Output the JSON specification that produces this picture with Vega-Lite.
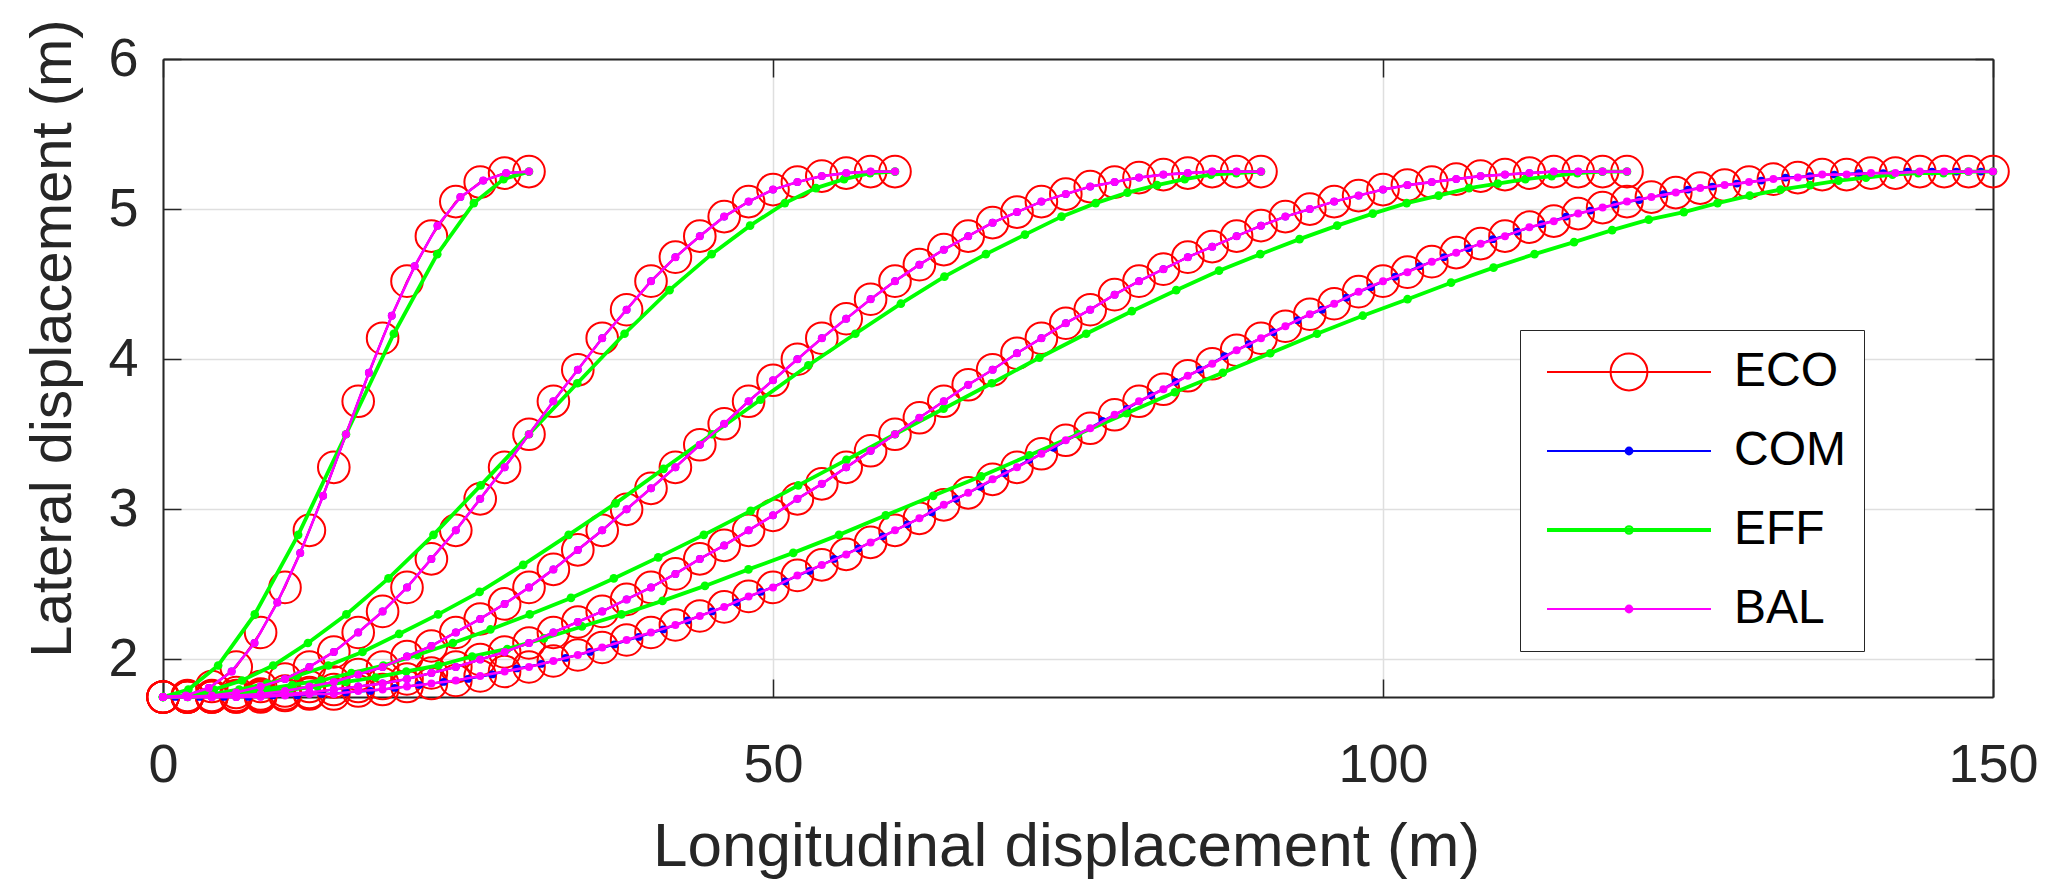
{
  "$schema": "https://vega.github.io/schema/vega-lite/v6.json",
  "width": 1830,
  "height": 638,
  "autosize": {"type": "none"},
  "padding": {"left": 163, "top": 59, "right": 66, "bottom": 194},
  "background": "white",
  "config": {
    "view": {"stroke": null},
    "font": "Liberation Sans",
    "axis": {
      "domainColor": "#262626", "domainWidth": 2,
      "tickColor": "#262626", "tickWidth": 1.5, "tickSize": -18,
      "labelFont": "Liberation Sans", "labelFontSize": 54, "labelColor": "#262626",
      "labelFlush": false, "labelOverlap": false,
      "titleFont": "Liberation Sans", "titleFontSize": 60, "titleFontWeight": "normal", "titleColor": "#262626",
      "gridColor": "#DFDFDF", "gridWidth": 1.5
    }
  },
  "datasets": {
    "series": [{"s": "ECO"}, {"s": "COM"}, {"s": "EFF"}, {"s": "BAL"}],
    "eco": [
      {"g":1,"x":0,"y":1.75},{"g":1,"x":2,"y":1.76},{"g":1,"x":4,"y":1.82},{"g":1,"x":6,"y":1.95},{"g":1,"x":8,"y":2.18},{"g":1,"x":10,"y":2.48},{"g":1,"x":12,"y":2.86},{"g":1,"x":14,"y":3.28},{"g":1,"x":16,"y":3.72},{"g":1,"x":18,"y":4.14},{"g":1,"x":20,"y":4.52},{"g":1,"x":22,"y":4.82},{"g":1,"x":24,"y":5.05},{"g":1,"x":26,"y":5.18},{"g":1,"x":28,"y":5.24},{"g":1,"x":30,"y":5.25},
      {"g":2,"x":0,"y":1.75},{"g":2,"x":2,"y":1.75},{"g":2,"x":4,"y":1.76},{"g":2,"x":6,"y":1.78},{"g":2,"x":8,"y":1.82},{"g":2,"x":10,"y":1.87},{"g":2,"x":12,"y":1.95},{"g":2,"x":14,"y":2.05},{"g":2,"x":16,"y":2.18},{"g":2,"x":18,"y":2.32},{"g":2,"x":20,"y":2.48},{"g":2,"x":22,"y":2.67},{"g":2,"x":24,"y":2.86},{"g":2,"x":26,"y":3.07},{"g":2,"x":28,"y":3.28},{"g":2,"x":30,"y":3.5},{"g":2,"x":32,"y":3.72},{"g":2,"x":34,"y":3.93},{"g":2,"x":36,"y":4.14},{"g":2,"x":38,"y":4.33},{"g":2,"x":40,"y":4.52},{"g":2,"x":42,"y":4.68},{"g":2,"x":44,"y":4.82},{"g":2,"x":46,"y":4.95},{"g":2,"x":48,"y":5.05},{"g":2,"x":50,"y":5.13},{"g":2,"x":52,"y":5.18},{"g":2,"x":54,"y":5.22},{"g":2,"x":56,"y":5.24},{"g":2,"x":58,"y":5.25},{"g":2,"x":60,"y":5.25},
      {"g":3,"x":0,"y":1.75},{"g":3,"x":2,"y":1.75},{"g":3,"x":4,"y":1.75},{"g":3,"x":6,"y":1.76},{"g":3,"x":8,"y":1.77},{"g":3,"x":10,"y":1.79},{"g":3,"x":12,"y":1.82},{"g":3,"x":14,"y":1.85},{"g":3,"x":16,"y":1.9},{"g":3,"x":18,"y":1.95},{"g":3,"x":20,"y":2.02},{"g":3,"x":22,"y":2.09},{"g":3,"x":24,"y":2.18},{"g":3,"x":26,"y":2.27},{"g":3,"x":28,"y":2.37},{"g":3,"x":30,"y":2.48},{"g":3,"x":32,"y":2.6},{"g":3,"x":34,"y":2.73},{"g":3,"x":36,"y":2.86},{"g":3,"x":38,"y":3.0},{"g":3,"x":40,"y":3.14},{"g":3,"x":42,"y":3.28},{"g":3,"x":44,"y":3.43},{"g":3,"x":46,"y":3.57},{"g":3,"x":48,"y":3.72},{"g":3,"x":50,"y":3.86},{"g":3,"x":52,"y":4.0},{"g":3,"x":54,"y":4.14},{"g":3,"x":56,"y":4.27},{"g":3,"x":58,"y":4.4},{"g":3,"x":60,"y":4.52},{"g":3,"x":62,"y":4.63},{"g":3,"x":64,"y":4.73},{"g":3,"x":66,"y":4.82},{"g":3,"x":68,"y":4.91},{"g":3,"x":70,"y":4.98},{"g":3,"x":72,"y":5.05},{"g":3,"x":74,"y":5.1},{"g":3,"x":76,"y":5.15},{"g":3,"x":78,"y":5.18},{"g":3,"x":80,"y":5.21},{"g":3,"x":82,"y":5.23},{"g":3,"x":84,"y":5.24},{"g":3,"x":86,"y":5.25},{"g":3,"x":88,"y":5.25},{"g":3,"x":90,"y":5.25},
      {"g":4,"x":0,"y":1.75},{"g":4,"x":2,"y":1.75},{"g":4,"x":4,"y":1.75},{"g":4,"x":6,"y":1.75},{"g":4,"x":8,"y":1.76},{"g":4,"x":10,"y":1.77},{"g":4,"x":12,"y":1.78},{"g":4,"x":14,"y":1.8},{"g":4,"x":16,"y":1.82},{"g":4,"x":18,"y":1.84},{"g":4,"x":20,"y":1.87},{"g":4,"x":22,"y":1.91},{"g":4,"x":24,"y":1.95},{"g":4,"x":26,"y":2.0},{"g":4,"x":28,"y":2.05},{"g":4,"x":30,"y":2.11},{"g":4,"x":32,"y":2.18},{"g":4,"x":34,"y":2.25},{"g":4,"x":36,"y":2.32},{"g":4,"x":38,"y":2.4},{"g":4,"x":40,"y":2.48},{"g":4,"x":42,"y":2.57},{"g":4,"x":44,"y":2.67},{"g":4,"x":46,"y":2.76},{"g":4,"x":48,"y":2.86},{"g":4,"x":50,"y":2.96},{"g":4,"x":52,"y":3.07},{"g":4,"x":54,"y":3.17},{"g":4,"x":56,"y":3.28},{"g":4,"x":58,"y":3.39},{"g":4,"x":60,"y":3.5},{"g":4,"x":62,"y":3.61},{"g":4,"x":64,"y":3.72},{"g":4,"x":66,"y":3.83},{"g":4,"x":68,"y":3.93},{"g":4,"x":70,"y":4.04},{"g":4,"x":72,"y":4.14},{"g":4,"x":74,"y":4.24},{"g":4,"x":76,"y":4.33},{"g":4,"x":78,"y":4.43},{"g":4,"x":80,"y":4.52},{"g":4,"x":82,"y":4.6},{"g":4,"x":84,"y":4.68},{"g":4,"x":86,"y":4.75},{"g":4,"x":88,"y":4.82},{"g":4,"x":90,"y":4.89},{"g":4,"x":92,"y":4.95},{"g":4,"x":94,"y":5.0},{"g":4,"x":96,"y":5.05},{"g":4,"x":98,"y":5.09},{"g":4,"x":100,"y":5.13},{"g":4,"x":102,"y":5.16},{"g":4,"x":104,"y":5.18},{"g":4,"x":106,"y":5.2},{"g":4,"x":108,"y":5.22},{"g":4,"x":110,"y":5.23},{"g":4,"x":112,"y":5.24},{"g":4,"x":114,"y":5.25},{"g":4,"x":116,"y":5.25},{"g":4,"x":118,"y":5.25},{"g":4,"x":120,"y":5.25},
      {"g":5,"x":0,"y":1.75},{"g":5,"x":2,"y":1.75},{"g":5,"x":4,"y":1.75},{"g":5,"x":6,"y":1.75},{"g":5,"x":8,"y":1.75},{"g":5,"x":10,"y":1.76},{"g":5,"x":12,"y":1.77},{"g":5,"x":14,"y":1.77},{"g":5,"x":16,"y":1.79},{"g":5,"x":18,"y":1.8},{"g":5,"x":20,"y":1.82},{"g":5,"x":22,"y":1.84},{"g":5,"x":24,"y":1.86},{"g":5,"x":26,"y":1.89},{"g":5,"x":28,"y":1.92},{"g":5,"x":30,"y":1.95},{"g":5,"x":32,"y":1.99},{"g":5,"x":34,"y":2.03},{"g":5,"x":36,"y":2.08},{"g":5,"x":38,"y":2.13},{"g":5,"x":40,"y":2.18},{"g":5,"x":42,"y":2.23},{"g":5,"x":44,"y":2.29},{"g":5,"x":46,"y":2.35},{"g":5,"x":48,"y":2.42},{"g":5,"x":50,"y":2.48},{"g":5,"x":52,"y":2.56},{"g":5,"x":54,"y":2.63},{"g":5,"x":56,"y":2.7},{"g":5,"x":58,"y":2.78},{"g":5,"x":60,"y":2.86},{"g":5,"x":62,"y":2.94},{"g":5,"x":64,"y":3.03},{"g":5,"x":66,"y":3.11},{"g":5,"x":68,"y":3.2},{"g":5,"x":70,"y":3.28},{"g":5,"x":72,"y":3.37},{"g":5,"x":74,"y":3.46},{"g":5,"x":76,"y":3.54},{"g":5,"x":78,"y":3.63},{"g":5,"x":80,"y":3.72},{"g":5,"x":82,"y":3.8},{"g":5,"x":84,"y":3.89},{"g":5,"x":86,"y":3.97},{"g":5,"x":88,"y":4.06},{"g":5,"x":90,"y":4.14},{"g":5,"x":92,"y":4.22},{"g":5,"x":94,"y":4.3},{"g":5,"x":96,"y":4.37},{"g":5,"x":98,"y":4.45},{"g":5,"x":100,"y":4.52},{"g":5,"x":102,"y":4.58},{"g":5,"x":104,"y":4.65},{"g":5,"x":106,"y":4.71},{"g":5,"x":108,"y":4.77},{"g":5,"x":110,"y":4.82},{"g":5,"x":112,"y":4.88},{"g":5,"x":114,"y":4.92},{"g":5,"x":116,"y":4.97},{"g":5,"x":118,"y":5.01},{"g":5,"x":120,"y":5.05},{"g":5,"x":122,"y":5.08},{"g":5,"x":124,"y":5.11},{"g":5,"x":126,"y":5.14},{"g":5,"x":128,"y":5.16},{"g":5,"x":130,"y":5.18},{"g":5,"x":132,"y":5.2},{"g":5,"x":134,"y":5.21},{"g":5,"x":136,"y":5.23},{"g":5,"x":138,"y":5.23},{"g":5,"x":140,"y":5.24},{"g":5,"x":142,"y":5.24},{"g":5,"x":144,"y":5.25},{"g":5,"x":146,"y":5.25},{"g":5,"x":148,"y":5.25},{"g":5,"x":150,"y":5.25}
    ],
    "com": [
      {"g":1,"x":0,"y":1.75},{"g":1,"x":1.875,"y":1.76},{"g":1,"x":3.75,"y":1.81},{"g":1,"x":5.625,"y":1.92},{"g":1,"x":7.5,"y":2.11},{"g":1,"x":9.375,"y":2.38},{"g":1,"x":11.25,"y":2.71},{"g":1,"x":13.125,"y":3.09},{"g":1,"x":15,"y":3.5},{"g":1,"x":16.875,"y":3.91},{"g":1,"x":18.75,"y":4.29},{"g":1,"x":20.625,"y":4.62},{"g":1,"x":22.5,"y":4.89},{"g":1,"x":24.375,"y":5.08},{"g":1,"x":26.25,"y":5.19},{"g":1,"x":28.125,"y":5.24},{"g":1,"x":30,"y":5.25},
      {"g":2,"x":0,"y":1.75},{"g":2,"x":2,"y":1.75},{"g":2,"x":4,"y":1.76},{"g":2,"x":6,"y":1.78},{"g":2,"x":8,"y":1.82},{"g":2,"x":10,"y":1.87},{"g":2,"x":12,"y":1.95},{"g":2,"x":14,"y":2.05},{"g":2,"x":16,"y":2.18},{"g":2,"x":18,"y":2.32},{"g":2,"x":20,"y":2.48},{"g":2,"x":22,"y":2.67},{"g":2,"x":24,"y":2.86},{"g":2,"x":26,"y":3.07},{"g":2,"x":28,"y":3.28},{"g":2,"x":30,"y":3.5},{"g":2,"x":32,"y":3.72},{"g":2,"x":34,"y":3.93},{"g":2,"x":36,"y":4.14},{"g":2,"x":38,"y":4.33},{"g":2,"x":40,"y":4.52},{"g":2,"x":42,"y":4.68},{"g":2,"x":44,"y":4.82},{"g":2,"x":46,"y":4.95},{"g":2,"x":48,"y":5.05},{"g":2,"x":50,"y":5.13},{"g":2,"x":52,"y":5.18},{"g":2,"x":54,"y":5.22},{"g":2,"x":56,"y":5.24},{"g":2,"x":58,"y":5.25},{"g":2,"x":60,"y":5.25},
      {"g":3,"x":0,"y":1.75},{"g":3,"x":2,"y":1.75},{"g":3,"x":4,"y":1.75},{"g":3,"x":6,"y":1.76},{"g":3,"x":8,"y":1.77},{"g":3,"x":10,"y":1.79},{"g":3,"x":12,"y":1.82},{"g":3,"x":14,"y":1.85},{"g":3,"x":16,"y":1.9},{"g":3,"x":18,"y":1.95},{"g":3,"x":20,"y":2.02},{"g":3,"x":22,"y":2.09},{"g":3,"x":24,"y":2.18},{"g":3,"x":26,"y":2.27},{"g":3,"x":28,"y":2.37},{"g":3,"x":30,"y":2.48},{"g":3,"x":32,"y":2.6},{"g":3,"x":34,"y":2.73},{"g":3,"x":36,"y":2.86},{"g":3,"x":38,"y":3.0},{"g":3,"x":40,"y":3.14},{"g":3,"x":42,"y":3.28},{"g":3,"x":44,"y":3.43},{"g":3,"x":46,"y":3.57},{"g":3,"x":48,"y":3.72},{"g":3,"x":50,"y":3.86},{"g":3,"x":52,"y":4.0},{"g":3,"x":54,"y":4.14},{"g":3,"x":56,"y":4.27},{"g":3,"x":58,"y":4.4},{"g":3,"x":60,"y":4.52},{"g":3,"x":62,"y":4.63},{"g":3,"x":64,"y":4.73},{"g":3,"x":66,"y":4.82},{"g":3,"x":68,"y":4.91},{"g":3,"x":70,"y":4.98},{"g":3,"x":72,"y":5.05},{"g":3,"x":74,"y":5.1},{"g":3,"x":76,"y":5.15},{"g":3,"x":78,"y":5.18},{"g":3,"x":80,"y":5.21},{"g":3,"x":82,"y":5.23},{"g":3,"x":84,"y":5.24},{"g":3,"x":86,"y":5.25},{"g":3,"x":88,"y":5.25},{"g":3,"x":90,"y":5.25},
      {"g":4,"x":0,"y":1.75},{"g":4,"x":2,"y":1.75},{"g":4,"x":4,"y":1.75},{"g":4,"x":6,"y":1.75},{"g":4,"x":8,"y":1.76},{"g":4,"x":10,"y":1.77},{"g":4,"x":12,"y":1.78},{"g":4,"x":14,"y":1.8},{"g":4,"x":16,"y":1.82},{"g":4,"x":18,"y":1.84},{"g":4,"x":20,"y":1.87},{"g":4,"x":22,"y":1.91},{"g":4,"x":24,"y":1.95},{"g":4,"x":26,"y":2.0},{"g":4,"x":28,"y":2.05},{"g":4,"x":30,"y":2.11},{"g":4,"x":32,"y":2.18},{"g":4,"x":34,"y":2.25},{"g":4,"x":36,"y":2.32},{"g":4,"x":38,"y":2.4},{"g":4,"x":40,"y":2.48},{"g":4,"x":42,"y":2.57},{"g":4,"x":44,"y":2.67},{"g":4,"x":46,"y":2.76},{"g":4,"x":48,"y":2.86},{"g":4,"x":50,"y":2.96},{"g":4,"x":52,"y":3.07},{"g":4,"x":54,"y":3.17},{"g":4,"x":56,"y":3.28},{"g":4,"x":58,"y":3.39},{"g":4,"x":60,"y":3.5},{"g":4,"x":62,"y":3.61},{"g":4,"x":64,"y":3.72},{"g":4,"x":66,"y":3.83},{"g":4,"x":68,"y":3.93},{"g":4,"x":70,"y":4.04},{"g":4,"x":72,"y":4.14},{"g":4,"x":74,"y":4.24},{"g":4,"x":76,"y":4.33},{"g":4,"x":78,"y":4.43},{"g":4,"x":80,"y":4.52},{"g":4,"x":82,"y":4.6},{"g":4,"x":84,"y":4.68},{"g":4,"x":86,"y":4.75},{"g":4,"x":88,"y":4.82},{"g":4,"x":90,"y":4.89},{"g":4,"x":92,"y":4.95},{"g":4,"x":94,"y":5.0},{"g":4,"x":96,"y":5.05},{"g":4,"x":98,"y":5.09},{"g":4,"x":100,"y":5.13},{"g":4,"x":102,"y":5.16},{"g":4,"x":104,"y":5.18},{"g":4,"x":106,"y":5.2},{"g":4,"x":108,"y":5.22},{"g":4,"x":110,"y":5.23},{"g":4,"x":112,"y":5.24},{"g":4,"x":114,"y":5.25},{"g":4,"x":116,"y":5.25},{"g":4,"x":118,"y":5.25},{"g":4,"x":120,"y":5.25},
      {"g":5,"x":0,"y":1.75},{"g":5,"x":1,"y":1.75},{"g":5,"x":3,"y":1.75},{"g":5,"x":5,"y":1.75},{"g":5,"x":7,"y":1.75},{"g":5,"x":9,"y":1.76},{"g":5,"x":11,"y":1.76},{"g":5,"x":13,"y":1.77},{"g":5,"x":15,"y":1.78},{"g":5,"x":17,"y":1.79},{"g":5,"x":19,"y":1.81},{"g":5,"x":21,"y":1.83},{"g":5,"x":23,"y":1.85},{"g":5,"x":25,"y":1.87},{"g":5,"x":27,"y":1.9},{"g":5,"x":29,"y":1.94},{"g":5,"x":31,"y":1.97},{"g":5,"x":33,"y":2.01},{"g":5,"x":35,"y":2.05},{"g":5,"x":37,"y":2.1},{"g":5,"x":39,"y":2.15},{"g":5,"x":41,"y":2.2},{"g":5,"x":43,"y":2.26},{"g":5,"x":45,"y":2.32},{"g":5,"x":47,"y":2.38},{"g":5,"x":49,"y":2.45},{"g":5,"x":51,"y":2.52},{"g":5,"x":53,"y":2.59},{"g":5,"x":55,"y":2.67},{"g":5,"x":57,"y":2.74},{"g":5,"x":59,"y":2.82},{"g":5,"x":61,"y":2.9},{"g":5,"x":63,"y":2.98},{"g":5,"x":65,"y":3.07},{"g":5,"x":67,"y":3.15},{"g":5,"x":69,"y":3.24},{"g":5,"x":71,"y":3.33},{"g":5,"x":73,"y":3.41},{"g":5,"x":75,"y":3.5},{"g":5,"x":77,"y":3.59},{"g":5,"x":79,"y":3.67},{"g":5,"x":81,"y":3.76},{"g":5,"x":83,"y":3.85},{"g":5,"x":85,"y":3.93},{"g":5,"x":87,"y":4.02},{"g":5,"x":89,"y":4.1},{"g":5,"x":91,"y":4.18},{"g":5,"x":93,"y":4.26},{"g":5,"x":95,"y":4.33},{"g":5,"x":97,"y":4.41},{"g":5,"x":99,"y":4.48},{"g":5,"x":101,"y":4.55},{"g":5,"x":103,"y":4.62},{"g":5,"x":105,"y":4.68},{"g":5,"x":107,"y":4.74},{"g":5,"x":109,"y":4.8},{"g":5,"x":111,"y":4.85},{"g":5,"x":113,"y":4.9},{"g":5,"x":115,"y":4.95},{"g":5,"x":117,"y":4.99},{"g":5,"x":119,"y":5.03},{"g":5,"x":121,"y":5.06},{"g":5,"x":123,"y":5.1},{"g":5,"x":125,"y":5.13},{"g":5,"x":127,"y":5.15},{"g":5,"x":129,"y":5.17},{"g":5,"x":131,"y":5.19},{"g":5,"x":133,"y":5.21},{"g":5,"x":135,"y":5.22},{"g":5,"x":137,"y":5.23},{"g":5,"x":139,"y":5.24},{"g":5,"x":141,"y":5.24},{"g":5,"x":143,"y":5.25},{"g":5,"x":145,"y":5.25},{"g":5,"x":147,"y":5.25},{"g":5,"x":149,"y":5.25},{"g":5,"x":150,"y":5.25}
    ],
    "eff": [
      {"g":1,"x":0,"y":1.75},{"g":1,"x":2.08,"y":1.8},{"g":1,"x":4.52,"y":1.96},{"g":1,"x":7.52,"y":2.3},{"g":1,"x":11.08,"y":2.83},{"g":1,"x":15,"y":3.5},{"g":1,"x":18.92,"y":4.17},{"g":1,"x":22.48,"y":4.7},{"g":1,"x":25.48,"y":5.04},{"g":1,"x":27.92,"y":5.2},{"g":1,"x":30,"y":5.25},
      {"g":2,"x":0,"y":1.75},{"g":2,"x":2.04,"y":1.76},{"g":2,"x":4.17,"y":1.8},{"g":2,"x":6.48,"y":1.86},{"g":2,"x":9.03,"y":1.96},{"g":2,"x":11.88,"y":2.11},{"g":2,"x":15.03,"y":2.3},{"g":2,"x":18.48,"y":2.54},{"g":2,"x":22.17,"y":2.83},{"g":2,"x":26.04,"y":3.16},{"g":2,"x":30,"y":3.5},{"g":2,"x":33.96,"y":3.84},{"g":2,"x":37.83,"y":4.17},{"g":2,"x":41.52,"y":4.46},{"g":2,"x":44.97,"y":4.7},{"g":2,"x":48.12,"y":4.89},{"g":2,"x":50.97,"y":5.04},{"g":2,"x":53.52,"y":5.14},{"g":2,"x":55.83,"y":5.2},{"g":2,"x":57.96,"y":5.24},{"g":2,"x":60,"y":5.25},
      {"g":3,"x":0,"y":1.75},{"g":3,"x":2.03,"y":1.76},{"g":3,"x":4.1,"y":1.77},{"g":3,"x":6.25,"y":1.8},{"g":3,"x":8.52,"y":1.84},{"g":3,"x":10.95,"y":1.89},{"g":3,"x":13.55,"y":1.96},{"g":3,"x":16.35,"y":2.05},{"g":3,"x":19.35,"y":2.17},{"g":3,"x":22.55,"y":2.3},{"g":3,"x":25.95,"y":2.45},{"g":3,"x":29.52,"y":2.63},{"g":3,"x":33.25,"y":2.83},{"g":3,"x":37.1,"y":3.04},{"g":3,"x":41.03,"y":3.27},{"g":3,"x":45,"y":3.5},{"g":3,"x":48.97,"y":3.73},{"g":3,"x":52.9,"y":3.96},{"g":3,"x":56.75,"y":4.17},{"g":3,"x":60.48,"y":4.37},{"g":3,"x":64.05,"y":4.55},{"g":3,"x":67.45,"y":4.7},{"g":3,"x":70.65,"y":4.83},{"g":3,"x":73.65,"y":4.95},{"g":3,"x":76.45,"y":5.04},{"g":3,"x":79.05,"y":5.11},{"g":3,"x":81.48,"y":5.16},{"g":3,"x":83.75,"y":5.2},{"g":3,"x":85.9,"y":5.23},{"g":3,"x":87.97,"y":5.24},{"g":3,"x":90,"y":5.25},
      {"g":4,"x":0,"y":1.75},{"g":4,"x":2.02,"y":1.75},{"g":4,"x":4.07,"y":1.76},{"g":4,"x":6.17,"y":1.78},{"g":4,"x":8.33,"y":1.8},{"g":4,"x":10.59,"y":1.83},{"g":4,"x":12.95,"y":1.86},{"g":4,"x":15.44,"y":1.91},{"g":4,"x":18.06,"y":1.96},{"g":4,"x":20.84,"y":2.03},{"g":4,"x":23.76,"y":2.11},{"g":4,"x":26.84,"y":2.2},{"g":4,"x":30.06,"y":2.3},{"g":4,"x":33.44,"y":2.41},{"g":4,"x":36.95,"y":2.54},{"g":4,"x":40.59,"y":2.68},{"g":4,"x":44.33,"y":2.83},{"g":4,"x":48.17,"y":2.99},{"g":4,"x":52.07,"y":3.16},{"g":4,"x":56.02,"y":3.33},{"g":4,"x":60,"y":3.5},{"g":4,"x":63.98,"y":3.67},{"g":4,"x":67.93,"y":3.84},{"g":4,"x":71.83,"y":4.01},{"g":4,"x":75.67,"y":4.17},{"g":4,"x":79.41,"y":4.32},{"g":4,"x":83.05,"y":4.46},{"g":4,"x":86.56,"y":4.59},{"g":4,"x":89.94,"y":4.7},{"g":4,"x":93.16,"y":4.8},{"g":4,"x":96.24,"y":4.89},{"g":4,"x":99.16,"y":4.97},{"g":4,"x":101.94,"y":5.04},{"g":4,"x":104.56,"y":5.09},{"g":4,"x":107.05,"y":5.14},{"g":4,"x":109.41,"y":5.17},{"g":4,"x":111.67,"y":5.2},{"g":4,"x":113.83,"y":5.22},{"g":4,"x":115.93,"y":5.24},{"g":4,"x":117.98,"y":5.25},{"g":4,"x":120,"y":5.25},
      {"g":5,"x":0,"y":1.75},{"g":5,"x":2.02,"y":1.75},{"g":5,"x":4.06,"y":1.76},{"g":5,"x":6.13,"y":1.77},{"g":5,"x":8.24,"y":1.78},{"g":5,"x":10.41,"y":1.8},{"g":5,"x":12.66,"y":1.82},{"g":5,"x":14.99,"y":1.85},{"g":5,"x":17.42,"y":1.88},{"g":5,"x":19.94,"y":1.92},{"g":5,"x":22.58,"y":1.96},{"g":5,"x":25.34,"y":2.02},{"g":5,"x":28.22,"y":2.07},{"g":5,"x":31.22,"y":2.14},{"g":5,"x":34.34,"y":2.22},{"g":5,"x":37.58,"y":2.3},{"g":5,"x":40.94,"y":2.39},{"g":5,"x":44.42,"y":2.49},{"g":5,"x":47.99,"y":2.6},{"g":5,"x":51.66,"y":2.71},{"g":5,"x":55.41,"y":2.83},{"g":5,"x":59.24,"y":2.96},{"g":5,"x":63.13,"y":3.09},{"g":5,"x":67.06,"y":3.22},{"g":5,"x":71.02,"y":3.36},{"g":5,"x":75,"y":3.5},{"g":5,"x":78.98,"y":3.64},{"g":5,"x":82.94,"y":3.78},{"g":5,"x":86.87,"y":3.91},{"g":5,"x":90.76,"y":4.04},{"g":5,"x":94.59,"y":4.17},{"g":5,"x":98.34,"y":4.29},{"g":5,"x":102.01,"y":4.4},{"g":5,"x":105.58,"y":4.51},{"g":5,"x":109.06,"y":4.61},{"g":5,"x":112.42,"y":4.7},{"g":5,"x":115.66,"y":4.78},{"g":5,"x":118.78,"y":4.86},{"g":5,"x":121.78,"y":4.93},{"g":5,"x":124.66,"y":4.98},{"g":5,"x":127.42,"y":5.04},{"g":5,"x":130.06,"y":5.09},{"g":5,"x":132.58,"y":5.13},{"g":5,"x":135.01,"y":5.16},{"g":5,"x":137.34,"y":5.19},{"g":5,"x":139.59,"y":5.21},{"g":5,"x":141.76,"y":5.23},{"g":5,"x":143.87,"y":5.24},{"g":5,"x":145.94,"y":5.24},{"g":5,"x":147.98,"y":5.25},{"g":5,"x":150,"y":5.25}
    ],
    "bal": [
      {"g":1,"x":0,"y":1.75},{"g":1,"x":1.875,"y":1.76},{"g":1,"x":3.75,"y":1.81},{"g":1,"x":5.625,"y":1.92},{"g":1,"x":7.5,"y":2.11},{"g":1,"x":9.375,"y":2.38},{"g":1,"x":11.25,"y":2.71},{"g":1,"x":13.125,"y":3.09},{"g":1,"x":15,"y":3.5},{"g":1,"x":16.875,"y":3.91},{"g":1,"x":18.75,"y":4.29},{"g":1,"x":20.625,"y":4.62},{"g":1,"x":22.5,"y":4.89},{"g":1,"x":24.375,"y":5.08},{"g":1,"x":26.25,"y":5.19},{"g":1,"x":28.125,"y":5.24},{"g":1,"x":30,"y":5.25},
      {"g":2,"x":0,"y":1.75},{"g":2,"x":2,"y":1.75},{"g":2,"x":4,"y":1.76},{"g":2,"x":6,"y":1.78},{"g":2,"x":8,"y":1.82},{"g":2,"x":10,"y":1.87},{"g":2,"x":12,"y":1.95},{"g":2,"x":14,"y":2.05},{"g":2,"x":16,"y":2.18},{"g":2,"x":18,"y":2.32},{"g":2,"x":20,"y":2.48},{"g":2,"x":22,"y":2.67},{"g":2,"x":24,"y":2.86},{"g":2,"x":26,"y":3.07},{"g":2,"x":28,"y":3.28},{"g":2,"x":30,"y":3.5},{"g":2,"x":32,"y":3.72},{"g":2,"x":34,"y":3.93},{"g":2,"x":36,"y":4.14},{"g":2,"x":38,"y":4.33},{"g":2,"x":40,"y":4.52},{"g":2,"x":42,"y":4.68},{"g":2,"x":44,"y":4.82},{"g":2,"x":46,"y":4.95},{"g":2,"x":48,"y":5.05},{"g":2,"x":50,"y":5.13},{"g":2,"x":52,"y":5.18},{"g":2,"x":54,"y":5.22},{"g":2,"x":56,"y":5.24},{"g":2,"x":58,"y":5.25},{"g":2,"x":60,"y":5.25},
      {"g":3,"x":0,"y":1.75},{"g":3,"x":2,"y":1.75},{"g":3,"x":4,"y":1.75},{"g":3,"x":6,"y":1.76},{"g":3,"x":8,"y":1.77},{"g":3,"x":10,"y":1.79},{"g":3,"x":12,"y":1.82},{"g":3,"x":14,"y":1.85},{"g":3,"x":16,"y":1.9},{"g":3,"x":18,"y":1.95},{"g":3,"x":20,"y":2.02},{"g":3,"x":22,"y":2.09},{"g":3,"x":24,"y":2.18},{"g":3,"x":26,"y":2.27},{"g":3,"x":28,"y":2.37},{"g":3,"x":30,"y":2.48},{"g":3,"x":32,"y":2.6},{"g":3,"x":34,"y":2.73},{"g":3,"x":36,"y":2.86},{"g":3,"x":38,"y":3.0},{"g":3,"x":40,"y":3.14},{"g":3,"x":42,"y":3.28},{"g":3,"x":44,"y":3.43},{"g":3,"x":46,"y":3.57},{"g":3,"x":48,"y":3.72},{"g":3,"x":50,"y":3.86},{"g":3,"x":52,"y":4.0},{"g":3,"x":54,"y":4.14},{"g":3,"x":56,"y":4.27},{"g":3,"x":58,"y":4.4},{"g":3,"x":60,"y":4.52},{"g":3,"x":62,"y":4.63},{"g":3,"x":64,"y":4.73},{"g":3,"x":66,"y":4.82},{"g":3,"x":68,"y":4.91},{"g":3,"x":70,"y":4.98},{"g":3,"x":72,"y":5.05},{"g":3,"x":74,"y":5.1},{"g":3,"x":76,"y":5.15},{"g":3,"x":78,"y":5.18},{"g":3,"x":80,"y":5.21},{"g":3,"x":82,"y":5.23},{"g":3,"x":84,"y":5.24},{"g":3,"x":86,"y":5.25},{"g":3,"x":88,"y":5.25},{"g":3,"x":90,"y":5.25},
      {"g":4,"x":0,"y":1.75},{"g":4,"x":2,"y":1.75},{"g":4,"x":4,"y":1.75},{"g":4,"x":6,"y":1.75},{"g":4,"x":8,"y":1.76},{"g":4,"x":10,"y":1.77},{"g":4,"x":12,"y":1.78},{"g":4,"x":14,"y":1.8},{"g":4,"x":16,"y":1.82},{"g":4,"x":18,"y":1.84},{"g":4,"x":20,"y":1.87},{"g":4,"x":22,"y":1.91},{"g":4,"x":24,"y":1.95},{"g":4,"x":26,"y":2.0},{"g":4,"x":28,"y":2.05},{"g":4,"x":30,"y":2.11},{"g":4,"x":32,"y":2.18},{"g":4,"x":34,"y":2.25},{"g":4,"x":36,"y":2.32},{"g":4,"x":38,"y":2.4},{"g":4,"x":40,"y":2.48},{"g":4,"x":42,"y":2.57},{"g":4,"x":44,"y":2.67},{"g":4,"x":46,"y":2.76},{"g":4,"x":48,"y":2.86},{"g":4,"x":50,"y":2.96},{"g":4,"x":52,"y":3.07},{"g":4,"x":54,"y":3.17},{"g":4,"x":56,"y":3.28},{"g":4,"x":58,"y":3.39},{"g":4,"x":60,"y":3.5},{"g":4,"x":62,"y":3.61},{"g":4,"x":64,"y":3.72},{"g":4,"x":66,"y":3.83},{"g":4,"x":68,"y":3.93},{"g":4,"x":70,"y":4.04},{"g":4,"x":72,"y":4.14},{"g":4,"x":74,"y":4.24},{"g":4,"x":76,"y":4.33},{"g":4,"x":78,"y":4.43},{"g":4,"x":80,"y":4.52},{"g":4,"x":82,"y":4.6},{"g":4,"x":84,"y":4.68},{"g":4,"x":86,"y":4.75},{"g":4,"x":88,"y":4.82},{"g":4,"x":90,"y":4.89},{"g":4,"x":92,"y":4.95},{"g":4,"x":94,"y":5.0},{"g":4,"x":96,"y":5.05},{"g":4,"x":98,"y":5.09},{"g":4,"x":100,"y":5.13},{"g":4,"x":102,"y":5.16},{"g":4,"x":104,"y":5.18},{"g":4,"x":106,"y":5.2},{"g":4,"x":108,"y":5.22},{"g":4,"x":110,"y":5.23},{"g":4,"x":112,"y":5.24},{"g":4,"x":114,"y":5.25},{"g":4,"x":116,"y":5.25},{"g":4,"x":118,"y":5.25},{"g":4,"x":120,"y":5.25},
      {"g":5,"x":0,"y":1.75},{"g":5,"x":2,"y":1.75},{"g":5,"x":4,"y":1.75},{"g":5,"x":6,"y":1.75},{"g":5,"x":8,"y":1.75},{"g":5,"x":10,"y":1.76},{"g":5,"x":12,"y":1.77},{"g":5,"x":14,"y":1.77},{"g":5,"x":16,"y":1.79},{"g":5,"x":18,"y":1.8},{"g":5,"x":20,"y":1.82},{"g":5,"x":22,"y":1.84},{"g":5,"x":24,"y":1.86},{"g":5,"x":26,"y":1.89},{"g":5,"x":28,"y":1.92},{"g":5,"x":30,"y":1.95},{"g":5,"x":32,"y":1.99},{"g":5,"x":34,"y":2.03},{"g":5,"x":36,"y":2.08},{"g":5,"x":38,"y":2.13},{"g":5,"x":40,"y":2.18},{"g":5,"x":42,"y":2.23},{"g":5,"x":44,"y":2.29},{"g":5,"x":46,"y":2.35},{"g":5,"x":48,"y":2.42},{"g":5,"x":50,"y":2.48},{"g":5,"x":52,"y":2.56},{"g":5,"x":54,"y":2.63},{"g":5,"x":56,"y":2.7},{"g":5,"x":58,"y":2.78},{"g":5,"x":60,"y":2.86},{"g":5,"x":62,"y":2.94},{"g":5,"x":64,"y":3.03},{"g":5,"x":66,"y":3.11},{"g":5,"x":68,"y":3.2},{"g":5,"x":70,"y":3.28},{"g":5,"x":72,"y":3.37},{"g":5,"x":74,"y":3.46},{"g":5,"x":76,"y":3.54},{"g":5,"x":78,"y":3.63},{"g":5,"x":80,"y":3.72},{"g":5,"x":82,"y":3.8},{"g":5,"x":84,"y":3.89},{"g":5,"x":86,"y":3.97},{"g":5,"x":88,"y":4.06},{"g":5,"x":90,"y":4.14},{"g":5,"x":92,"y":4.22},{"g":5,"x":94,"y":4.3},{"g":5,"x":96,"y":4.37},{"g":5,"x":98,"y":4.45},{"g":5,"x":100,"y":4.52},{"g":5,"x":102,"y":4.58},{"g":5,"x":104,"y":4.65},{"g":5,"x":106,"y":4.71},{"g":5,"x":108,"y":4.77},{"g":5,"x":110,"y":4.82},{"g":5,"x":112,"y":4.88},{"g":5,"x":114,"y":4.92},{"g":5,"x":116,"y":4.97},{"g":5,"x":118,"y":5.01},{"g":5,"x":120,"y":5.05},{"g":5,"x":122,"y":5.08},{"g":5,"x":124,"y":5.11},{"g":5,"x":126,"y":5.14},{"g":5,"x":128,"y":5.16},{"g":5,"x":130,"y":5.18},{"g":5,"x":132,"y":5.2},{"g":5,"x":134,"y":5.21},{"g":5,"x":136,"y":5.23},{"g":5,"x":138,"y":5.23},{"g":5,"x":140,"y":5.24},{"g":5,"x":142,"y":5.24},{"g":5,"x":144,"y":5.25},{"g":5,"x":146,"y":5.25},{"g":5,"x":148,"y":5.25},{"g":5,"x":150,"y":5.25}
    ]
  },
  "encoding": {
    "x": {"field": "x", "type": "quantitative", "scale": {"domain": [0, 150], "nice": false, "zero": false}, "axis": null},
    "y": {"field": "y", "type": "quantitative", "scale": {"domain": [1.75, 6], "nice": false, "zero": false}, "axis": null},
    "detail": {"field": "g", "type": "nominal"}
  },
  "resolve": {"axis": {"x": "independent", "y": "independent"}},
  "layer": [
    {
      "data": {"name": "eco"},
      "mark": {"type": "line", "color": "#FF0000", "strokeWidth": 2},
      "encoding": {
        "x": {"field": "x", "type": "quantitative", "scale": {"domain": [0, 150], "nice": false, "zero": false},
          "axis": {"values": [0, 50, 100, 150], "grid": true, "labelPadding": 59, "title": "Longitudinal displacement (m)", "titleFontSize": 62, "titleBaseline": "alphabetic", "titleX": 903, "titleY": 168}},
        "y": {"field": "y", "type": "quantitative", "scale": {"domain": [1.75, 6], "nice": false, "zero": false},
          "axis": {"values": [2, 3, 4, 5, 6], "grid": true, "labelPadding": 43, "title": "Lateral displacement (m)", "titleFontSize": 58, "titleBaseline": "alphabetic", "titleX": -93, "titleY": 279}}
      }
    },
    {
      "data": {"name": "eco"},
      "mark": {"type": "point", "shape": "circle", "filled": false, "color": "#FF0000", "size": 1000, "strokeWidth": 2, "opacity": 1}
    },
    {
      "data": {"name": "com"},
      "mark": {"type": "line", "color": "#0000FF", "strokeWidth": 2}
    },
    {
      "data": {"name": "com"},
      "mark": {"type": "point", "shape": "circle", "filled": true, "color": "#0000FF", "size": 60, "opacity": 1}
    },
    {
      "data": {"name": "eff"},
      "mark": {"type": "line", "color": "#00FF00", "strokeWidth": 3.8}
    },
    {
      "data": {"name": "eff"},
      "mark": {"type": "point", "shape": "circle", "filled": true, "color": "#00FF00", "size": 75, "opacity": 1}
    },
    {
      "data": {"name": "bal"},
      "mark": {"type": "line", "color": "#FF00FF", "strokeWidth": 2.6}
    },
    {
      "data": {"name": "bal"},
      "mark": {"type": "point", "shape": "circle", "filled": true, "color": "#FF00FF", "size": 64, "opacity": 1}
    },
    {
      "data": {"name": "series"},
      "mark": {"type": "point", "filled": false, "opacity": 1},
      "encoding": {
        "x": {"field": "x", "type": "quantitative", "scale": {"domain": [0, 150], "nice": false, "zero": false},
          "axis": {"orient": "top", "values": [0, 50, 100, 150], "labels": false, "grid": false, "title": null}},
        "y": {"field": "y", "type": "quantitative", "scale": {"domain": [1.75, 6], "nice": false, "zero": false},
          "axis": {"orient": "right", "values": [2, 3, 4, 5, 6], "labels": false, "grid": false, "title": null}},
        "color": {"field": "s", "type": "nominal",
          "scale": {"domain": ["ECO", "COM", "EFF", "BAL"], "range": ["#FF0000", "#0000FF", "#00FF00", "#FF00FF"]},
          "legend": {"title": null, "orient": "none", "legendX": 1357, "legendY": 271, "direction": "vertical", "padding": 18, "strokeColor": "#262626", "fillColor": "#FFFFFF", "symbolSize": 1600, "symbolStrokeWidth": 2, "symbolOffset": 67, "labelOffset": 81, "labelFontSize": 48, "labelFont": "Liberation Sans", "labelColor": "#000000", "rowPadding": 31, "labelBaseline": "middle"}},
        "shape": {"field": "s", "type": "nominal",
          "scale": {"domain": ["ECO", "COM", "EFF", "BAL"], "range": [
            "M-4.1,0H4.1M0.92,0A0.92,0.92,0,1,1,-0.92,0A0.92,0.92,0,1,1,0.92,0",
            "M-4.1,0H4.1M0.17,0A0.17,0.17,0,1,1,-0.17,0A0.17,0.17,0,1,1,0.17,0M0.07,0A0.07,0.07,0,1,1,-0.07,0A0.07,0.07,0,1,1,0.07,0",
            "M-4.1,-0.045H4.1M-4.1,0.045H4.1M0.19,0A0.19,0.19,0,1,1,-0.19,0A0.19,0.19,0,1,1,0.19,0M0.08,0A0.08,0.08,0,1,1,-0.08,0A0.08,0.08,0,1,1,0.08,0",
            "M-4.1,0H4.1M0.17,0A0.17,0.17,0,1,1,-0.17,0A0.17,0.17,0,1,1,0.17,0M0.07,0A0.07,0.07,0,1,1,-0.07,0A0.07,0.07,0,1,1,0.07,0"
          ]},
          "legend": {"title": null, "orient": "none", "legendX": 1357, "legendY": 271, "direction": "vertical", "padding": 18, "strokeColor": "#262626", "fillColor": "#FFFFFF", "symbolSize": 1600, "symbolStrokeWidth": 2, "symbolOffset": 67, "labelOffset": 81, "labelFontSize": 48, "labelFont": "Liberation Sans", "labelColor": "#000000", "rowPadding": 31, "labelBaseline": "middle"}}
      }
    }
  ]
}
